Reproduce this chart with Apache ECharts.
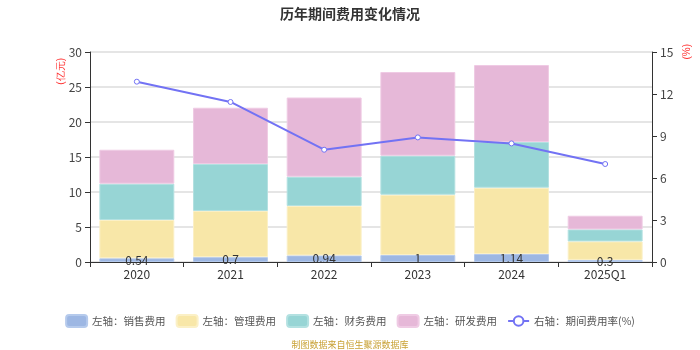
<!DOCTYPE html>
<html><head><meta charset="utf-8">
<script src="https://cdn.jsdelivr.net/npm/echarts@6/dist/echarts.min.js"></script>
<style>html,body{margin:0;padding:0;background:#fff}#c{width:700px;height:350px}</style>
</head><body><div id="c"></div>
<script>
var categories = ['2020','2021','2022','2023','2024','2025Q1'];
var sales = [0.54, 0.7, 0.94, 1, 1.14, 0.3];
var mgmt = [5.46, 6.59, 7.06, 8.61, 9.47, 2.64];
var finance = [5.19, 6.71, 4.19, 5.58, 6.53, 1.72];
var rd = [4.85, 8.04, 11.31, 11.95, 11.0, 1.95];
var rate = [12.88, 11.43, 8.02, 8.9, 8.47, 7.0];
var leftTicks = [0, 30, 5];
var rightTicks = [0, 15, 3];

var chart = echarts.init(document.getElementById('c'));
var font = 'Noto Sans CJK SC';
function barSeries(name, data, color, border, label) {
  return {
    name: name, type: 'bar', stack: 'a', data: data, barWidth: '80%',
    itemStyle: { color: color, borderColor: border, borderWidth: 1 },
    label: label ? { show: true, position: 'inside', offset: [0, 0], color: '#333', fontSize: 12, fontFamily: font } : { show: false }
  };
}
chart.setOption({
  animation: false,
  textStyle: { fontFamily: font },
  title: { text: '历年期间费用变化情况', left: 'center', top: 2, textStyle: { fontSize: 14, fontWeight: 'bold', color: '#333', fontFamily: font } },
  grid: { left: 90, right: 48, top: 52, bottom: 88 },
  legend: {
    bottom: 17, left: 'center', itemWidth: 21, itemHeight: 12, itemGap: 10,
    textStyle: { fontSize: 10.5, color: '#555', fontFamily: font },
    data: [
      { name: '左轴：销售费用', icon: 'roundRect' },
      { name: '左轴：管理费用', icon: 'roundRect' },
      { name: '左轴：财务费用', icon: 'roundRect' },
      { name: '左轴：研发费用', icon: 'roundRect' },
      { name: '右轴：期间费用率(%)' }
    ]
  },
  graphic: [
    { type: 'text', left: 56, top: 58, rotation: Math.PI / 2, style: { text: '(亿元)', fill: '#f33', fontSize: 10, font: '10px "Noto Sans CJK SC"' } },
    { type: 'text', left: 682, top: 44, rotation: Math.PI / 2, style: { text: '(%)', fill: '#f33', fontSize: 10, font: '10px "Noto Sans CJK SC"' } },
    { type: 'text', left: 'center', top: 340, style: { text: '制图数据来自恒生聚源数据库', fill: '#c9a236', font: '9px "Noto Sans CJK SC"' } }
  ],
  xAxis: {
    type: 'category', data: categories,
    axisLine: { lineStyle: { color: '#333' } },
    axisTick: { show: true, lineStyle: { color: '#333' } },
    axisLabel: { color: '#333', fontSize: 12, margin: 6, fontFamily: font }
  },
  yAxis: [
    { type: 'value', min: leftTicks[0], max: leftTicks[1], interval: leftTicks[2],
      axisLine: { show: true, lineStyle: { color: '#333' } }, axisTick: { show: true },
      axisLabel: { color: '#444', fontSize: 12, fontFamily: font },
      splitLine: { lineStyle: { color: '#ddd', width: 1.5 } } },
    { type: 'value', min: rightTicks[0], max: rightTicks[1], interval: rightTicks[2],
      axisLine: { show: true, lineStyle: { color: '#333' } }, axisTick: { show: true },
      axisLabel: { color: '#444', fontSize: 12, fontFamily: font },
      splitLine: { show: false } }
  ],
  series: [
    barSeries('左轴：销售费用', sales, '#9db7e3', '#b5caec', true),
    barSeries('左轴：管理费用', mgmt, '#f8e7a8', '#fbf0c6', false),
    barSeries('左轴：财务费用', finance, '#97d5d5', '#b3e1e1', false),
    barSeries('左轴：研发费用', rd, '#e6b8d8', '#efcbe4', false),
    { name: '右轴：期间费用率(%)', type: 'line', yAxisIndex: 1, data: rate,
      symbol: 'circle', symbolSize: 5, showSymbol: true,
      lineStyle: { color: '#7272f4', width: 2 },
      itemStyle: { color: '#fff', borderColor: '#7272f4', borderWidth: 1 } }
  ]
});
</script></body></html>
